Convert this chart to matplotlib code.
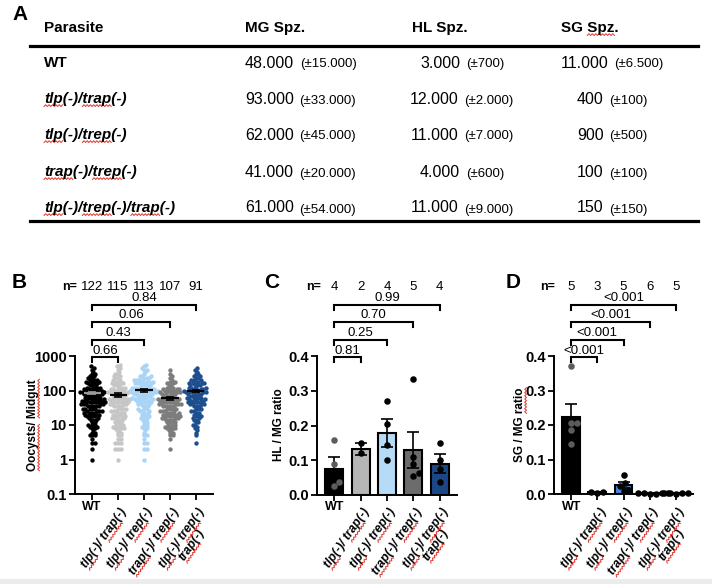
import re
import numpy as np
import matplotlib
matplotlib.use("Agg")
import matplotlib.pyplot as plt
from matplotlib.lines import Line2D
from matplotlib.transforms import blended_transform_factory
from matplotlib.offsetbox import TextArea, HPacker, AnnotationBbox

plt.rcParams["font.family"] = ["Liberation Sans", "DejaVu Sans"]

W, H = 712, 584

# --- Panel A: table values ---
strains = ["WT", "tlp(-)/trap(-)", "tlp(-)/trep(-)", "trap(-)/trep(-)", "tlp(-)/trep(-)/trap(-)"]
mg_spz = ["48.000", "93.000", "62.000", "41.000", "61.000"]
mg_err = ["(±15.000)", "(±33.000)", "(±45.000)", "(±20.000)", "(±54.000)"]
hl_spz = ["3.000", "12.000", "11.000", "4.000", "11.000"]
hl_err = ["(±700)", "(±2.000)", "(±7.000)", "(±600)", "(±9.000)"]
sg_spz = ["11.000", "400", "900", "100", "150"]
sg_err = ["(±6.500)", "(±100)", "(±500)", "(±100)", "(±150)"]

# --- Panels B-D: shared groups ---
groups = ["WT", "tlp(-)/ trap(-)", "tlp(-)/ trep(-)", "trap(-)/ trep(-)", "tlp(-)/ trep(-)\ntrap(-)"]

# B: oocysts per midgut, binned counts (log scale)
levels = [1, 2, 3, 4, 5, 6, 7, 8, 9, 10, 12, 14, 16, 18, 20, 23, 26, 30, 35, 40, 45,
          50, 55, 60, 70, 80, 90, 100, 110, 120, 140, 160, 180, 200, 230, 260, 300,
          350, 400, 450, 500, 550]
cnt_wt = [1, 1, 2, 1, 3, 2, 1, 2, 2, 3, 2, 3, 2, 3, 4, 4, 4, 5, 5, 5, 5,
          5, 3, 5, 5, 5, 5, 5, 3, 4, 3, 3, 3, 3, 2, 2, 2, 1, 1, 1, 1, 0]
cnt_tlp_trap = [1, 3, 3, 2, 2, 2, 2, 3, 2, 3, 3, 3, 3, 3, 3, 3, 3, 4, 4, 4, 4,
                4, 4, 4, 4, 4, 4, 4, 3, 3, 3, 3, 2, 2, 2, 2, 2, 1, 1, 1, 1, 1]
cnt_tlp_trep = [1, 2, 2, 1, 2, 1, 1, 2, 1, 2, 2, 2, 2, 2, 2, 2, 3, 3, 3, 3, 3,
                4, 4, 4, 5, 5, 5, 6, 4, 5, 4, 4, 4, 4, 3, 3, 1, 1, 2, 1, 1, 1]
cnt_trap_trep = [0, 1, 0, 1, 2, 2, 2, 3, 2, 3, 4, 4, 4, 4, 4, 4, 4, 4, 5, 5, 4,
                 4, 4, 4, 4, 4, 4, 4, 3, 3, 2, 2, 2, 1, 1, 1, 1, 0, 1, 0, 0, 0]
cnt_triple = [0, 0, 1, 0, 1, 1, 1, 1, 1, 2, 2, 2, 2, 2, 2, 2, 2, 3, 3, 4, 3,
              4, 3, 4, 4, 4, 4, 4, 3, 4, 4, 4, 2, 3, 2, 2, 2, 1, 1, 1, 0, 0]
b_counts = [cnt_wt, cnt_tlp_trap, cnt_tlp_trep, cnt_trap_trep, cnt_triple]
b_mean = [85, 74, 102, 60, 97]
b_sem = [8, 8, 9, 6, 9]
b_n = [122, 115, 113, 107, 91]
b_pvals = ["0.66", "0.43", "0.06", "0.84"]
b_colors = ["#000000", "#c6c6c6", "#a9d4f6", "#7d7d7d", "#1d4e8e"]

# C: HL / MG ratio
c_mean = [0.075, 0.133, 0.178, 0.130, 0.090]
c_sem = [0.033, 0.017, 0.040, 0.052, 0.027]
c_points = [[0.158, 0.088, 0.037, 0.025], [0.150, 0.120], [0.270, 0.205, 0.143, 0.100],
            [0.333, 0.110, 0.090, 0.063, 0.055], [0.150, 0.100, 0.075, 0.038]]
c_n = [4, 2, 4, 5, 4]
c_pvals = ["0.81", "0.25", "0.70", "0.99"]
c_colors = ["#000000", "#b6b6b6", "#b6dbf7", "#6c6c6c", "#1c4786"]

# D: SG / MG ratio
d_mean = [0.222, 0.005, 0.026, 0.002, 0.002]
d_sem = [0.040, 0.001, 0.009, 0.0005, 0.0005]
d_points = [[0.370, 0.205, 0.205, 0.186, 0.145], [0.004, 0.006, 0.005],
            [0.055, 0.033, 0.022, 0.012, 0.008], [0.002, 0.003, 0.002, 0.001, 0.002, 0.001],
            [0.002, 0.003, 0.002, 0.001, 0.002]]
d_n = [5, 3, 5, 6, 5]
d_pvals = ["<0.001", "<0.001", "<0.001", "<0.001"]
d_colors = ["#000000", "#b6b6b6", "#3f89de", "#6c6c6c", "#1c4786"]

SPELL = r"tlp|trap|trep"   # words carrying the red spell-check underline


def fx(x):
    return x / W


def fy(y):
    return 1 - y / H


def swarm(ypix, d):
    # simple beeswarm in pixel space, returns x offsets in pixels
    order = np.argsort(ypix)
    placed = []
    xs = np.zeros(len(ypix))
    for i in order:
        y = ypix[i]
        near = [(px, py) for px, py in placed if abs(py - y) < d]
        cands = [0.0]
        for px, py in near:
            dx = np.sqrt(d ** 2 - (py - y) ** 2)
            cands += [px + dx, px - dx]
        cands.sort(key=abs)
        for c in cands:
            if all((c - px) ** 2 + (y - py) ** 2 >= d ** 2 - 1e-6 for px, py in near):
                xs[i] = c
                break
        placed.append((xs[i], y))
    return xs


fig = plt.figure(figsize=(W / 100, H / 100), dpi=100)
spell_texts = []   # (text, words pattern, kind)

# --- Panel A ---
fig.text(fx(12), fy(14), "A", fontsize=15, fontweight="bold", va="center", ha="left")
head_y = 28
fig.text(fx(44), fy(head_y), "Parasite", fontsize=11, fontweight="bold", va="center")
fig.text(fx(245), fy(head_y), "MG Spz.", fontsize=11, fontweight="bold", va="center")
fig.text(fx(412), fy(head_y), "HL Spz.", fontsize=11, fontweight="bold", va="center")
t = fig.text(fx(561), fy(head_y), "SG Spz.", fontsize=11, fontweight="bold", va="center")
spell_texts.append((t, r"Spz", "flat"))
for ly in (46, 221):
    fig.add_artist(Line2D([fx(30), fx(698)], [fy(ly), fy(ly)], color="black", lw=2.3))

row_y = [63, 99, 135, 172, 208]


def cell(x, y, main, err, align):
    box = HPacker(children=[TextArea(main, textprops=dict(fontsize=11.5)),
                            TextArea(err, textprops=dict(fontsize=9.5))],
                  align="baseline", pad=0, sep=4)
    ab = AnnotationBbox(box, (fx(x), fy(y)), xycoords="figure fraction",
                        box_alignment=(align, 0.5), frameon=False, pad=0)
    fig.add_artist(ab)


for i, s in enumerate(strains):
    style = "normal" if s == "WT" else "italic"
    t = fig.text(fx(44), fy(row_y[i]), s, fontsize=11, fontweight="bold", style=style, va="center")
    spell_texts.append((t, SPELL, "flat"))
    cell(245, row_y[i], mg_spz[i], mg_err[i], 0.0)
    cell(462, row_y[i], hl_spz[i], hl_err[i], 0.5)
    cell(612, row_y[i], sg_spz[i], sg_err[i], 0.5)


# --- Panels B-D layout ---
def make_axes(left, right, top, bottom):
    ax = fig.add_axes([fx(left), fy(bottom), (right - left) / W, (bottom - top) / H])
    for sp in ("top", "right"):
        ax.spines[sp].set_visible(False)
    for sp in ("left", "bottom"):
        ax.spines[sp].set_linewidth(1.4)
    ax.tick_params(width=1.3, length=4, labelsize=10.5, pad=2)
    ax.set_xlim(-0.66, 4.66)
    ax.set_xticks(range(5))
    ax.set_xticklabels([])
    return ax


def decorate(ax, nx, n_vals, pvals, ylabel, ylab_x, ylab_spell):
    tr = blended_transform_factory(ax.transData, fig.transFigure)
    fig.text(fx(nx), fy(287), "n=", fontsize=9, fontweight="bold", va="center", ha="left")
    for i, n in enumerate(n_vals):
        ax.text(i, fy(287), str(n), transform=tr, fontsize=9.5, ha="center", va="center")
    for k, (p, yb) in enumerate(zip(pvals, [357, 340, 322, 305])):
        x2 = k + 1
        ax.plot([0, 0, x2, x2], [fy(yb + 5), fy(yb), fy(yb), fy(yb + 5)], transform=tr,
                color="black", lw=1.5, clip_on=False, solid_joinstyle="miter")
        ax.text(x2 / 2, fy(yb - 0.5), p, transform=tr, fontsize=9.5, ha="center", va="bottom")
    ax.text(0, fy(507), "WT", transform=tr, fontsize=9, fontweight="bold", ha="center", va="center")
    for i in range(1, 5):
        t = ax.text(i + 0.06, fy(506), groups[i], transform=tr, fontsize=8.8, fontweight="bold",
                    style="italic", rotation=55, rotation_mode="anchor", ha="right", va="top",
                    multialignment="center", linespacing=1.0)
        spell_texts.append((t, SPELL, "tick"))
    t = fig.text(fx(ylab_x), fy(425), ylabel, rotation=90, fontsize=8.5, fontweight="bold",
                 ha="center", va="center")
    if ylab_spell:
        spell_texts.append((t, ylab_spell, "vert"))


# --- Panel B: scatter on log scale ---
fig.text(fx(12), fy(283), "B", fontsize=15, fontweight="bold", va="center", ha="left")
axB = make_axes(75, 213, 356, 494)
axB.set_yscale("log")
axB.set_ylim(0.1, 1000)
axB.set_yticks([0.1, 1, 10, 100, 1000])
axB.set_yticklabels(["0.1", "1", "10", "100", "1000"], fontweight="bold")
axB.minorticks_off()
upx = axB.transData.transform([[1, 1]])[0, 0] - axB.transData.transform([[0, 1]])[0, 0]
for i, cnts in enumerate(b_counts):
    vals = np.repeat(levels, cnts).astype(float)
    ypix = axB.transData.transform(np.column_stack([np.zeros(len(vals)), vals]))[:, 1]
    xoff = swarm(ypix, 2.6) / upx
    axB.scatter(i + xoff, vals, s=10, color=b_colors[i], linewidths=0, zorder=2)
    lc = "#9a9a9a" if i == 0 else "black"
    axB.hlines(b_mean[i], i - 0.33, i + 0.33, color=lc, lw=1.6, zorder=3)
    axB.errorbar(i, b_mean[i], yerr=b_sem[i], color=lc, capsize=3, lw=1.2, capthick=1.2, zorder=3)
decorate(axB, 62, b_n, b_pvals, "Oocysts/ Midgut", 33, r"Oocysts|Midgut")


# --- Panels C and D: bars with points ---
def bar_panel(ax, means, sems, points, colors):
    ax.set_ylim(0, 0.4)
    ax.set_yticks([0, 0.1, 0.2, 0.3, 0.4])
    ax.set_yticklabels(["0.0", "0.1", "0.2", "0.3", "0.4"], fontweight="bold")
    upx = ax.transData.transform([[1, 0]])[0, 0] - ax.transData.transform([[0, 0]])[0, 0]
    ax.bar(range(5), means, width=0.68, color=colors, edgecolor="black", lw=1.5, zorder=1)
    ax.errorbar(range(5), means, yerr=sems, fmt="none", ecolor="black", capsize=4,
                elinewidth=1.2, capthick=1.2, zorder=2)
    for i, pts in enumerate(points):
        pts = np.array(pts)
        ypix = ax.transData.transform(np.column_stack([np.zeros(len(pts)), pts]))[:, 1]
        xoff = swarm(ypix, 6.0) / upx
        pc = "#5c5c5c" if i == 0 else "black"
        ax.scatter(i + xoff, pts, s=22, color=pc, linewidths=0, zorder=3, clip_on=False)


fig.text(fx(264), fy(283), "C", fontsize=15, fontweight="bold", va="center", ha="left")
axC = make_axes(317, 457, 356, 495)
bar_panel(axC, c_mean, c_sem, c_points, c_colors)
decorate(axC, 306, c_n, c_pvals, "HL / MG ratio", 279, None)

fig.text(fx(506), fy(283), "D", fontsize=15, fontweight="bold", va="center", ha="left")
axD = make_axes(554, 693, 356, 494)
bar_panel(axD, d_mean, d_sem, d_points, d_colors)
decorate(axD, 540, d_n, d_pvals, "SG / MG ratio", 520, r"ratio")

for ax in (axB, axC, axD):
    for lab in ax.get_yticklabels():
        lab.set_fontweight("bold")


# --- red spell-check squiggles under flagged words ---
renderer = fig.canvas.get_renderer()


def zigzag(p0, p1, nrm):
    seg = p1 - p0
    L = np.hypot(*seg)
    k = max(int(L / 1.6), 2)
    s = np.linspace(0, 1, k + 1)
    off = np.where(np.arange(k + 1) % 2 == 0, -0.9, 0.9)
    pts = p0 + np.outer(s, seg) + np.outer(off, nrm)
    fig.add_artist(Line2D(pts[:, 0] / W, pts[:, 1] / H, color="#e2342c", lw=0.7))


def width(s, prop):
    return renderer.get_text_width_height_descent(s, prop, ismath=False)[0]


for t, pat, kind in spell_texts:
    prop = t.get_fontproperties()
    _, lp_h, lp_d = renderer.get_text_width_height_descent("lp", prop, ismath=False)
    lines = t.get_text().split("\n")
    if kind in ("flat", "vert"):
        bb = t.get_window_extent(renderer)
        if kind == "flat":
            origin, u = np.array([bb.x0, bb.y0 + lp_d]), np.array([1.0, 0.0])
        else:
            origin, u = np.array([bb.x1 - lp_d, bb.y0]), np.array([0.0, 1.0])
        nrm = np.array([-u[1], u[0]])
        starts = [(origin, lines[0])]
    else:
        th = np.deg2rad(t.get_rotation())
        u = np.array([np.cos(th), np.sin(th)])
        nrm = np.array([-u[1], u[0]])
        P = t.get_transform().transform(t.get_position())
        mets = [renderer.get_text_width_height_descent(l, prop, ismath=False) for l in lines]
        wb = max(m[0] for m in mets)
        y, starts = 0.0, []
        for i, (w, h, d) in enumerate(mets):
            h, d = max(h, lp_h), max(d, lp_d)
            y = -(h - d) if i == 0 else y - max(lp_h - lp_d, h - d)
            x0 = -wb + (wb - w) / 2
            starts.append((P + x0 * u + y * nrm, lines[i]))
            y -= d
    for org, line in starts:
        for m in re.finditer(pat, line):
            b = width(line[:m.end()], prop)
            a = b - width(m.group(), prop)
            base = org - 2.6 * nrm
            zigzag(base + a * u, base + b * u, nrm)

# faint strip at the very bottom
fig.add_artist(plt.Rectangle((0, 0), 1, fy(579), transform=fig.transFigure,
                             color="#ececec", lw=0))

fig.savefig("out.png", dpi=100)
